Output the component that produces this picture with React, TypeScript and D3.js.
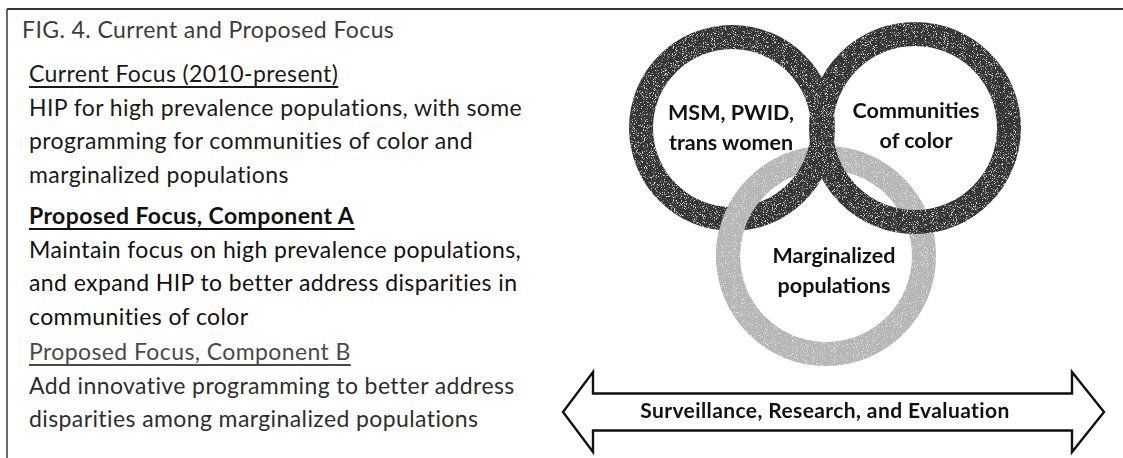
import { useEffect, useRef } from 'react'
import * as d3 from 'd3'

// text content
const figTitle = 'FIG. 4. Current and Proposed Focus'
const sectionHeadings = [
	'Current Focus (2010-present)',
	'Proposed Focus, Component A',
	'Proposed Focus, Component B',
]
const sectionLines = [
	[
		'HIP for high prevalence populations, with some',
		'programming for communities of color and',
		'marginalized populations',
	],
	[
		'Maintain focus on high prevalence populations,',
		'and expand HIP to better address disparities in',
		'communities of color',
	],
	[
		'Add innovative programming to better address',
		'disparities among marginalized populations',
	],
]
const ringLabels = [
	['MSM, PWID,', 'trans women'],
	['Communities', 'of color'],
	['Marginalized', 'populations'],
]
const bannerLabel = 'Surveillance, Research, and Evaluation'

const W = 1123
const H = 458
const FONT = 'Lato, "Open Sans", sans-serif'

const App = () => {
	const svgRef = useRef(null)

	useEffect(() => {
		const svg = d3.select(svgRef.current)
		svg.selectAll('*').remove()

		// light scan grain on the rings
		const defs = svg.append('defs')
		const f = defs
			.append('filter')
			.attr('id', 'grain')
			.attr('x', 0)
			.attr('y', 0)
			.attr('width', '100%')
			.attr('height', '100%')
		f.append('feTurbulence')
			.attr('type', 'fractalNoise')
			.attr('baseFrequency', 1.1)
			.attr('numOctaves', 2)
			.attr('seed', 4)
			.attr('result', 'noise')
		f.append('feColorMatrix')
			.attr('in', 'noise')
			.attr('type', 'matrix')
			.attr('values', '0 0 0 0 0.85  0 0 0 0 0.85  0 0 0 0 0.85  5 0 0 0 -2.9')
			.attr('result', 'specks')
		f.append('feComposite')
			.attr('in', 'specks')
			.attr('in2', 'SourceAlpha')
			.attr('operator', 'in')
			.attr('result', 'specksIn')
		const merge = f.append('feMerge')
		merge.append('feMergeNode').attr('in', 'SourceGraphic')
		merge.append('feMergeNode').attr('in', 'specksIn')

		// frame (top and left rules of the scan)
		svg.append('line')
			.attr('x1', 7).attr('x2', W).attr('y1', 9).attr('y2', 9)
			.attr('stroke', '#333').attr('stroke-width', 2)
		svg.append('line')
			.attr('x1', 7).attr('x2', 7).attr('y1', 9).attr('y2', H)
			.attr('stroke', '#444').attr('stroke-width', 1.6)

		// left column text
		const textX = 29
		const pitch = 33.6
		const headingY = [82, 224, 360]
		const headingWeight = ['normal', 'bold', 'normal']
		const headingColor = ['#1a1a1a', '#111', '#4a4a4a']
		const bodyColor = ['#1a1a1a', '#111', '#2e2e2e']
		const fontSize = 23
		const spacing = 0.4

		svg.append('text')
			.attr('x', 22)
			.attr('y', 38)
			.attr('font-family', FONT)
			.attr('font-size', fontSize)
			.attr('letter-spacing', spacing)
			.attr('fill', '#3c3c3c')
			.text(figTitle)

		sectionHeadings.forEach((h, i) => {
			const t = svg.append('text')
				.attr('x', textX)
				.attr('y', headingY[i])
				.attr('font-family', FONT)
				.attr('font-size', fontSize)
				.attr('letter-spacing', spacing)
				.attr('font-weight', headingWeight[i])
				.attr('fill', headingColor[i])
				.text(h)
			const w = t.node().getBBox().width
			svg.append('line')
				.attr('x1', textX)
				.attr('x2', textX + w)
				.attr('y1', headingY[i] + 5)
				.attr('y2', headingY[i] + 5)
				.attr('stroke', headingColor[i])
				.attr('stroke-width', 1.8)

			sectionLines[i].forEach((line, j) => {
				svg.append('text')
					.attr('x', textX)
					.attr('y', headingY[i] + pitch * (j + 1))
					.attr('font-family', FONT)
					.attr('font-size', fontSize)
					.attr('letter-spacing', spacing)
					.attr('fill', bodyColor[i])
					.text(line)
			})
		})

		// interlocking rings
		const rings = [
			{ cx: 732, cy: 128, r0: 79, r1: 103, fill: '#363636', lx: 731, ly: 120 },
			{ cx: 915, cy: 128, r0: 82, r1: 106, fill: '#363636', lx: 916, ly: 118 },
			{ cx: 826, cy: 256, r0: 86, r1: 110, fill: '#b6b6b6', lx: 834, ly: 263 },
		]
		const arc = d3.arc()
		const ringG = svg.append('g').attr('filter', 'url(#grain)')
		const order = [2, 0, 1]
		order.forEach((k) => {
			const r = rings[k]
			ringG.append('path')
				.attr('transform', `translate(${r.cx},${r.cy})`)
				.attr('d', arc({ innerRadius: r.r0, outerRadius: r.r1, startAngle: 0, endAngle: 2 * Math.PI }))
				.attr('fill', r.fill)
		})
		// gray ring passes over the left ring at its lower crossing
		const g = rings[2]
		ringG.append('path')
			.attr('transform', `translate(${g.cx},${g.cy})`)
			.attr('d', arc({
				innerRadius: g.r0,
				outerRadius: g.r1,
				startAngle: (265 * Math.PI) / 180,
				endAngle: (312 * Math.PI) / 180,
			}))
			.attr('fill', g.fill)

		ringLabels.forEach((lines, k) => {
			const r = rings[k]
			lines.forEach((line, j) => {
				svg.append('text')
					.attr('x', r.lx)
					.attr('y', r.ly + j * 29.5)
					.attr('text-anchor', 'middle')
					.attr('font-family', FONT)
					.attr('font-size', 21.5)
					.attr('font-weight', 'bold')
					.attr('fill', '#111')
					.text(line)
			})
		})

		// double-headed banner arrow
		const a = { xl: 563, bl: 593, br: 1072, xr: 1104, ym: 412, sh: 18.5, hh: 40 }
		const pts = [
			[a.bl, a.ym - a.sh],
			[a.bl, a.ym - a.hh],
			[a.xl, a.ym],
			[a.bl, a.ym + a.hh],
			[a.bl, a.ym + a.sh],
			[a.br, a.ym + a.sh],
			[a.br, a.ym + a.hh],
			[a.xr, a.ym],
			[a.br, a.ym - a.hh],
			[a.br, a.ym - a.sh],
		]
		svg.append('path')
			.attr('d', d3.line()(pts) + 'Z')
			.attr('fill', '#fff')
			.attr('stroke', '#111')
			.attr('stroke-width', 2.4)
			.attr('stroke-linejoin', 'miter')

		svg.append('text')
			.attr('x', 825)
			.attr('y', 418)
			.attr('text-anchor', 'middle')
			.attr('font-family', FONT)
			.attr('font-size', 21)
			.attr('letter-spacing', 0.4)
			.attr('font-weight', 'bold')
			.attr('fill', '#111')
			.text(bannerLabel)
	}, [])

	return (
		<svg
			ref={svgRef}
			width={W}
			height={H}
			style={{ position: 'absolute', left: 0, top: 0, background: '#fff' }}
		></svg>
	)
}

export default App
